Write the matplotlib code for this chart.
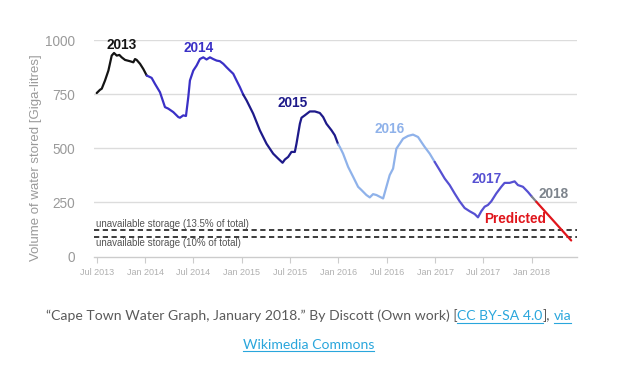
import matplotlib
matplotlib.use("Agg")
import matplotlib.pyplot as plt
from matplotlib.lines import Line2D

# ---------------- data (decimal year, giga-litres) ----------------
yr2013 = [2013.500, 2013.534, 2013.552, 2013.586, 2013.621, 2013.655, 2013.679, 2013.707,
          2013.734, 2013.758, 2013.793, 2013.844, 2013.879, 2013.896, 2013.913, 2013.948,
          2013.982, 2014.017]
v2013 = [755, 770, 775, 813, 859, 928, 940, 928, 931, 920, 908, 902, 897, 912, 908, 890, 866, 836]

yr2014 = [2014.017, 2014.068, 2014.103, 2014.154, 2014.206, 2014.240, 2014.292, 2014.344,
          2014.361, 2014.395, 2014.423, 2014.447, 2014.464, 2014.499, 2014.533, 2014.567,
          2014.602, 2014.636, 2014.671, 2014.705, 2014.740, 2014.774, 2014.809, 2014.843,
          2014.877, 2014.912, 2014.946, 2014.981, 2015.015]
v2014 = [836, 825, 797, 759, 690, 683, 667, 644, 641, 652, 649, 736, 813, 859, 882, 912,
         920, 910, 920, 912, 905, 902, 890, 874, 859, 844, 813, 782, 748]

yr2015 = [2015.015, 2015.050, 2015.118, 2015.187, 2015.256, 2015.325, 2015.377, 2015.422,
          2015.446, 2015.480, 2015.514, 2015.549, 2015.566, 2015.601, 2015.618, 2015.652,
          2015.704, 2015.756, 2015.807, 2015.842, 2015.876, 2015.928, 2015.962, 2015.997]
v2015 = [748, 721, 660, 583, 521, 475, 452, 433, 448, 460, 483, 483, 521, 613, 641, 652,
         670, 670, 663, 644, 613, 583, 560, 518]

yr2016 = [2015.997, 2016.014, 2016.048, 2016.100, 2016.152, 2016.203, 2016.238, 2016.289,
          2016.324, 2016.358, 2016.393, 2016.427, 2016.462, 2016.496, 2016.530, 2016.565,
          2016.599, 2016.634, 2016.668, 2016.720, 2016.771, 2016.823, 2016.857, 2016.892,
          2016.944, 2016.995]
v2016 = [518, 506, 475, 414, 368, 322, 307, 284, 273, 288, 284, 276, 268, 322, 376, 406,
         498, 521, 544, 557, 563, 552, 529, 506, 475, 437]

yr2017 = [2016.995, 2017.047, 2017.099, 2017.150, 2017.202, 2017.253, 2017.305, 2017.357,
          2017.409, 2017.443, 2017.477, 2017.512, 2017.546, 2017.581, 2017.632, 2017.684,
          2017.718, 2017.770, 2017.822, 2017.856, 2017.908, 2017.960, 2018.001]
v2017 = [437, 399, 360, 330, 291, 255, 224, 209, 196, 181, 209, 230, 238, 255, 291, 322,
         340, 340, 347, 330, 322, 298, 276]

yr2018 = [2018.001, 2018.046]
v2018 = [276, 253]

yr_pred = [2018.046, 2018.407]
v_pred = [253, 74]

unavail_levels = [121, 90]
unavail_labels = ["unavailable storage (13.5% of total)", "unavailable storage (10% of total)"]

xtick_pos = [2013.5, 2014.0, 2014.5, 2015.0, 2015.5, 2016.0, 2016.5, 2017.0, 2017.5, 2018.0]
xtick_labels = ["Jul 2013", "Jan 2014", "Jul 2014", "Jan 2015", "Jul 2015",
                "Jan 2016", "Jul 2016", "Jan 2017", "Jul 2017", "Jan 2018"]
ytick_pos = [0, 250, 500, 750, 1000]

# ---------------- figure ----------------
W, H = 617, 379
fig = plt.figure(figsize=(W / 100, H / 100), dpi=100)
fig.patch.set_facecolor("white")
ax = fig.add_axes([94.3 / W, 1 - 256.5 / H, (576.7 - 94.3) / W, (256.5 - 40) / H])

CH = "Liberation Sans"

for y in [250, 500, 750, 1000]:
    ax.axhline(y, color="#dcdcdc", lw=1.0, zorder=1)

segs = [
    (yr2013, v2013, "#141414"),
    (yr2014, v2014, "#3a30c6"),
    (yr2015, v2015, "#1e1a8a"),
    (yr2016, v2016, "#8fb2ea"),
    (yr2017, v2017, "#5650d2"),
    (yr2018, v2018, "#7d848c"),
    (yr_pred, v_pred, "#e0161c"),
]
for xs, ys, c in segs:
    ax.plot(xs, ys, color=c, lw=1.6, solid_capstyle="round", solid_joinstyle="round", zorder=3)

for lvl in unavail_levels:
    ax.axhline(lvl, color="#3c3c3c", lw=1.4, dashes=(2.7, 1.8), zorder=2)

ax.text(2013.49, unavail_levels[0] + 13, unavail_labels[0], fontsize=7.0, color="#555555",
        family=CH, ha="left", va="baseline")
ax.text(2013.49, 62, unavail_labels[1], fontsize=7.0, color="#555555",
        family=CH, ha="left", va="center")

labels = [
    ("2013", 2013.758, 978, "#141414"),
    ("2014", 2014.551, 962, "#3a30c6"),
    ("2015", 2015.523, 708, "#1e1a8a"),
    ("2016", 2016.526, 589, "#8fb2ea"),
    ("2017", 2017.533, 357, "#5650d2"),
    ("2018", 2018.222, 289, "#7d848c"),
    ("Predicted", 2017.826, 172, "#e0161c"),
]
for s, x, y, c in labels:
    ax.text(x, y, s, color=c, fontsize=9.8, fontweight="bold", family=CH,
            ha="center", va="center", zorder=4)

ax.set_xlim(2013.475, 2018.464)
ax.set_ylim(0, 1000)
for sp in ["top", "right", "left"]:
    ax.spines[sp].set_visible(False)
ax.spines["bottom"].set_color("#cccccc")
ax.spines["bottom"].set_linewidth(1.0)

ax.set_xticks(xtick_pos)
ax.set_xticklabels(xtick_labels, family=CH)
ax.tick_params(axis="x", colors="#cccccc", length=4, width=0.8, labelsize=6.5,
               labelcolor="#b0b0b0", pad=4)
ax.set_yticks(ytick_pos)
ax.set_yticklabels([str(v) for v in ytick_pos], family=CH)
ax.tick_params(axis="y", length=0, labelsize=9.8, labelcolor="#9a9a9a", pad=14)

fig.text(35.7 / W, 1 - 158 / H, "Volume of water stored [Giga-litres]", rotation=90,
         fontsize=9.5, color="#9a9a9a", family=CH, ha="center", va="center")

# ---------------- caption ----------------
renderer = fig.canvas.get_renderer()
CAP = "Lato"
CFS = 10.1
GRAY = "#5a5a5a"
LINK = "#2aa6dc"


def width(s):
    t = fig.text(0, 0, s, fontsize=CFS, family=CAP)
    w = t.get_window_extent(renderer).width
    t.remove()
    return w


A = "\u201cCape Town Water Graph, January 2018.\u201d By Discott (Own work) ["
B = "CC BY-SA 4.0"
C = "],"
D = "via"
total = width(A + B + C + " " + D)
x0 = (W - total) / 2
xs = [x0, x0 + width(A), x0 + width(A + B), x0 + width(A + B + C + " v") - width("v")]
y1 = 320.5
pieces = [(A, GRAY, False), (B, LINK, True), (C, GRAY, False), (D, LINK, True)]
for (s, c, u), x in zip(pieces, xs):
    fig.text(x / W, 1 - y1 / H, s, fontsize=CFS, family=CAP, color=c, ha="left", va="baseline")
    if u:
        w = width(s)
        fig.add_artist(Line2D([x / W, (x + w) / W], [1 - (y1 + 2) / H] * 2,
                              transform=fig.transFigure, color=c, lw=0.8))

E = "Wikimedia Commons"
y2 = 349
wE = width(E)
xE = (W - wE) / 2
fig.text(xE / W, 1 - y2 / H, E, fontsize=CFS, family=CAP, color=LINK, ha="left", va="baseline")
fig.add_artist(Line2D([xE / W, (xE + wE) / W], [1 - (y2 + 2) / H] * 2,
                      transform=fig.transFigure, color=LINK, lw=0.8))

fig.savefig("out.png", dpi=100, facecolor="white")
